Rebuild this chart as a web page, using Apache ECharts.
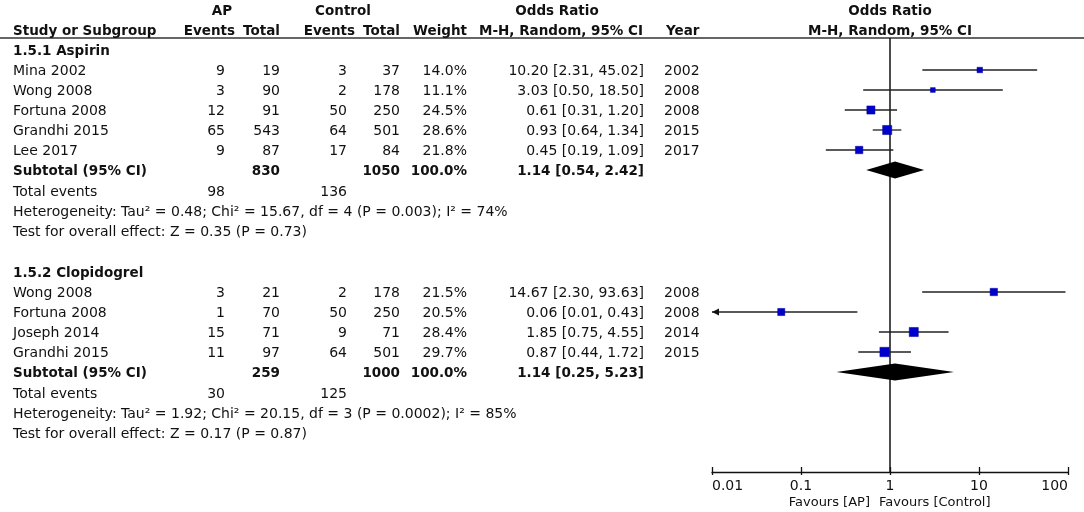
<!DOCTYPE html>
<html>
<head>
<meta charset="utf-8">
<title>Forest plot</title>
<script src="https://cdn.jsdelivr.net/npm/echarts@6/dist/echarts.min.js"></script>
<style>
html,body{margin:0;padding:0;background:#fff}
#chart{width:1084px;height:512px}
</style>
</head>
<body>
<div id="chart"></div>
<script>
// one entry per study, in the order they are listed
var studyNames = ['Mina 2002','Wong 2008','Fortuna 2008','Grandhi 2015','Lee 2017','Wong 2008','Fortuna 2008','Joseph 2014','Grandhi 2015'];
var studyGroup = [0,0,0,0,0,1,1,1,1];
var apEvents = [9,3,12,65,9,3,1,15,11];
var apTotal = [19,90,91,543,87,21,70,71,97];
var ctrlEvents = [3,2,50,64,17,2,50,9,64];
var ctrlTotal = [37,178,250,501,84,178,250,71,501];
var weights = [14.0,11.1,24.5,28.6,21.8,21.5,20.5,28.4,29.7];
var oddsRatio = [10.20,3.03,0.61,0.93,0.45,14.67,0.06,1.85,0.87];
var ciLow = [2.31,0.50,0.31,0.64,0.19,2.30,0.01,0.75,0.44];
var ciHigh = [45.02,18.50,1.20,1.34,1.09,93.63,0.43,4.55,1.72];
var years = [2002,2008,2008,2015,2017,2008,2008,2014,2015];

// subgroups
var groupNames = ['1.5.1 Aspirin','1.5.2 Clopidogrel'];
var subApTotal = [830,259];
var subCtrlTotal = [1050,1000];
var subWeight = [100.0,100.0];
var subOR = [1.14,1.14];
var subLow = [0.54,0.25];
var subHigh = [2.42,5.23];
var totApEvents = [98,30];
var totCtrlEvents = [136,125];
var heterogeneity = [
  'Heterogeneity: Tau² = 0.48; Chi² = 15.67, df = 4 (P = 0.003); I² = 74%',
  'Heterogeneity: Tau² = 1.92; Chi² = 20.15, df = 3 (P = 0.0002); I² = 85%'
];
var overallEffect = ['Test for overall effect: Z = 0.35 (P = 0.73)','Test for overall effect: Z = 0.17 (P = 0.87)'];

var axisTicks = [0.01,0.1,1,10,100];
var groupStartRow = [2,13.1];

var FONT = '"DejaVu Sans", Verdana, sans-serif';
var col = {study:13, apEv:225, apTot:280, ctEv:347, ctTot:400, weight:467, or:644, year:664};

function ci(v,l,h){ return v.toFixed(2)+' ['+l.toFixed(2)+', '+h.toFixed(2)+']'; }
function cell(text,x,align,bold){ return {text:String(text),x:x,align:align||'right',bold:!!bold}; }

// build table rows
var tableRows = [];
tableRows.push({r:0, cells:[cell('AP',222,'center',1),cell('Control',343,'center',1),cell('Odds Ratio',557,'center',1),cell('Odds Ratio',890,'center',1)]});
tableRows.push({r:1, cells:[cell('Study or Subgroup',col.study,'left',1),cell('Events',235,'right',1),cell('Total',280,'right',1),
  cell('Events',355,'right',1),cell('Total',400,'right',1),cell('Weight',467,'right',1),cell('M-H, Random, 95% CI',561,'center',1),
  cell('Year',col.year+2,'left',1),cell('M-H, Random, 95% CI',890,'center',1)]});

var studyRow = [];
var subRow = [];
groupNames.forEach(function(g,gi){
  var r = groupStartRow[gi];
  tableRows.push({r:r, cells:[cell(g,col.study,'left',1)]});
  for(var i=0;i<studyNames.length;i++){
    if(studyGroup[i]!==gi) continue;
    r += 1;
    studyRow[i] = r;
    tableRows.push({r:r, cells:[cell(studyNames[i],col.study,'left'),cell(apEvents[i],col.apEv),cell(apTotal[i],col.apTot),
      cell(ctrlEvents[i],col.ctEv),cell(ctrlTotal[i],col.ctTot),cell(weights[i].toFixed(1)+'%',col.weight),
      cell(ci(oddsRatio[i],ciLow[i],ciHigh[i]),col.or),cell(years[i],col.year,'left')]});
  }
  r += 1;
  subRow[gi] = r;
  tableRows.push({r:r, cells:[cell('Subtotal (95% CI)',col.study,'left',1),cell(subApTotal[gi],col.apTot,'right',1),
    cell(subCtrlTotal[gi],col.ctTot,'right',1),cell(subWeight[gi].toFixed(1)+'%',col.weight,'right',1),
    cell(ci(subOR[gi],subLow[gi],subHigh[gi]),col.or,'right',1)]});
  tableRows.push({r:r+1.05, cells:[cell('Total events',col.study,'left'),cell(totApEvents[gi],col.apEv),cell(totCtrlEvents[gi],col.ctEv)]});
  tableRows.push({r:r+2.05, cells:[cell(heterogeneity[gi],col.study,'left')]});
  tableRows.push({r:r+3.05, cells:[cell(overallEffect[gi],col.study,'left')]});
});

var studyData = studyNames.map(function(n,i){ return [oddsRatio[i],ciLow[i],ciHigh[i],studyRow[i],weights[i]]; });
var subData = groupNames.map(function(g,gi){ return [subOR[gi],subLow[gi],subHigh[gi],subRow[gi]]; });

var baseX = {
  type:'log', logBase:10, min:axisTicks[0], max:axisTicks[axisTicks.length-1], position:'bottom',
  splitLine:{show:false}
};

var chart = echarts.init(document.getElementById('chart'));
chart.setOption({
  backgroundColor:'#fff',
  animation:false,
  grid:{left:712, right:16, top:10, bottom:40},
  xAxis:[
    Object.assign({}, baseX, {
      axisLine:{onZero:false, lineStyle:{color:'#111', width:1.3}},
      axisTick:{inside:true, length:5, lineStyle:{color:'#111', width:1.3}},
      axisLabel:{color:'#111', fontSize:14, fontFamily:FONT, margin:7, alignMinLabel:'left', alignMaxLabel:'right',
        formatter:function(v){ return String(+(+v).toPrecision(2)); }}
    }),
    Object.assign({}, baseX, {
      axisLine:{onZero:false, show:false},
      axisTick:{inside:false, length:3, lineStyle:{color:'#111', width:1.3}},
      axisLabel:{show:false}
    })
  ],
  yAxis:{type:'value', inverse:true, min:0, max:23.1, show:false},
  graphic:[
    {type:'line', shape:{x1:0,y1:38,x2:1084,y2:38}, style:{stroke:'#333', lineWidth:1.5}},
    {type:'text', style:{x:870, y:503, text:'Favours [AP]', align:'right', verticalAlign:'middle', fontSize:13, fontFamily:FONT, fill:'#111'}},
    {type:'text', style:{x:879, y:503, text:'Favours [Control]', align:'left', verticalAlign:'middle', fontSize:13, fontFamily:FONT, fill:'#111'}}
  ],
  series:[
    {
      type:'line', data:[[1,1.4],[1,23.1]], symbol:'none', silent:true,
      lineStyle:{color:'#111', width:1.5}, z:1
    },
    {
      type:'custom', data:tableRows.map(function(t){ return [1,t.r]; }), encode:{x:0,y:1}, clip:false, silent:true,
      renderItem:function(params, api){
        var row = tableRows[params.dataIndex];
        var y = api.coord([1,row.r])[1] + 1;
        return {type:'group', children:row.cells.map(function(c){
          return {type:'text', style:{x:c.x, y:y, text:c.text, align:c.align, verticalAlign:'middle',
            fontSize:c.bold?13.5:14, fontWeight:c.bold?'bold':'normal', fontFamily:FONT, fill:'#111'}};
        })};
      }
    },
    {
      type:'custom', data:studyData, encode:{x:[0,1,2], y:3}, clip:false, z:3,
      renderItem:function(params, api){
        var r = api.value(3), lo = api.value(1);
        var pLo = api.coord([Math.max(lo,axisTicks[0]), r]);
        var pHi = api.coord([api.value(2), r]);
        var pM = api.coord([api.value(0), r]);
        var s = 2 + api.value(4)*0.25;
        var kids = [
          {type:'line', shape:{x1:pLo[0],y1:pLo[1],x2:pHi[0],y2:pHi[1]}, style:{stroke:'#222', lineWidth:1.3}},
          {type:'rect', shape:{x:pM[0]-s/2, y:pM[1]-s/2, width:s, height:s}, style:{fill:'#0000cc', stroke:'#00009a', lineWidth:0.5}}
        ];
        if(lo<=axisTicks[0]){
          kids.push({type:'polygon', shape:{points:[[pLo[0],pLo[1]],[pLo[0]+7,pLo[1]-3.5],[pLo[0]+7,pLo[1]+3.5]]}, style:{fill:'#111'}});
        }
        return {type:'group', children:kids};
      }
    },
    {
      type:'custom', data:subData, encode:{x:[0,1,2], y:3}, clip:false, z:3,
      renderItem:function(params, api){
        var r = api.value(3);
        var a = api.coord([api.value(1), r]);
        var b = api.coord([api.value(0), r-0.42]);
        var c = api.coord([api.value(2), r]);
        var d = api.coord([api.value(0), r+0.42]);
        return {type:'polygon', shape:{points:[a,b,c,d]}, style:{fill:'#000'}};
      }
    }
  ]
});
</script>
</body>
</html>
